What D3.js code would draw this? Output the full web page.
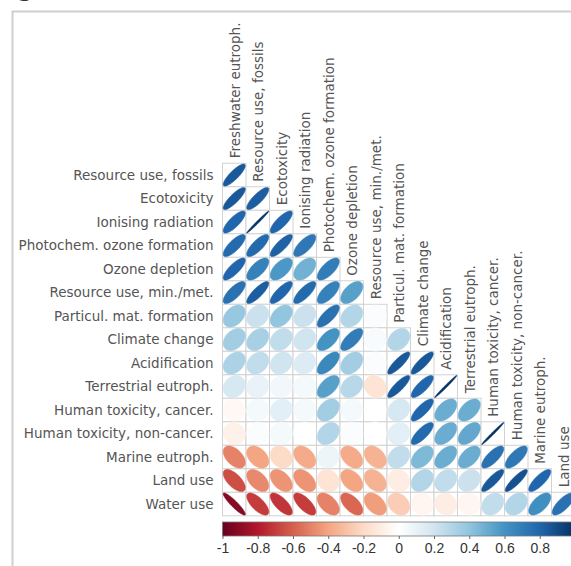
<!DOCTYPE html>
<html>
<head>
<meta charset="utf-8">
<script src="https://cdn.jsdelivr.net/npm/d3@7"></script>
<style>
  html, body { margin: 0; padding: 0; background: #fff; overflow: hidden; }
  svg { display: block; }
</style>
</head>
<body>
<svg id="chart" width="571" height="566"></svg>
<script>
// Impact categories, in matrix order
const variables = [
  "Freshwater eutroph.", "Resource use, fossils", "Ecotoxicity", "Ionising radiation",
  "Photochem. ozone formation", "Ozone depletion", "Resource use, min./met.",
  "Particul. mat. formation", "Climate change", "Acidification", "Terrestrial eutroph.",
  "Human toxicity, cancer.", "Human toxicity, non-cancer.", "Marine eutroph.",
  "Land use", "Water use"
];

// Lower triangle of the correlation matrix: row i holds r(variable i+1, variable j), j = 0..i
const corrRows = [
  [0.85],
  [0.85, 0.83],
  [0.80, 0.99, 0.80],
  [0.78, 0.78, 0.82, 0.72],
  [0.80, 0.68, 0.58, 0.48, 0.70],
  [0.75, 0.83, 0.80, 0.78, 0.68, 0.55],
  [0.38, 0.22, 0.40, 0.22, 0.75, 0.30, 0.02],
  [0.35, 0.33, 0.25, 0.20, 0.60, 0.70, 0.03, 0.30],
  [0.32, 0.25, 0.20, 0.15, 0.65, 0.35, 0.02, 0.85, 0.85],
  [0.18, 0.10, 0.06, 0.05, 0.55, 0.28, -0.15, 0.85, 0.80, 0.99],
  [-0.04, 0.05, 0.12, 0.05, 0.35, 0.05, 0.00, 0.18, 0.80, 0.50, 0.50],
  [-0.08, 0.02, 0.05, 0.00, 0.30, 0.02, 0.00, 0.12, 0.78, 0.50, 0.52, 0.99],
  [-0.50, -0.40, -0.20, -0.38, 0.08, -0.38, -0.35, 0.25, 0.45, 0.50, 0.50, 0.75, 0.72],
  [-0.65, -0.48, -0.45, -0.45, -0.15, -0.40, -0.35, -0.10, 0.30, 0.25, 0.22, 0.85, 0.88, 0.80],
  [-0.92, -0.70, -0.72, -0.70, -0.50, -0.58, -0.42, -0.25, -0.05, -0.10, -0.05, 0.25, 0.30, 0.62, 0.75]
];

// Diverging palette, -1 .. 1
const paletteColors = ["#67001F", "#B2182B", "#D6604D", "#F4A582", "#FDDBC7", "#FFFFFF",
                       "#D1E5F0", "#92C5DE", "#4393C3", "#2166AC", "#053061"];
const paletteStops = d3.range(11).map(i => -1 + i * 0.2);

// Colour bar tick labels
const barTicks = [-1, -0.8, -0.6, -0.4, -0.2, 0, 0.2, 0.4, 0.6, 0.8];

const svg = d3.select("#chart");
const W = 571, H = 566;

svg.append("rect").attr("width", W).attr("height", H).attr("fill", "#fff");

// panel frame
svg.append("path")
  .attr("d", `M12.5,${H} L12.5,11.5 L${W},11.5`)
  .attr("fill", "none").attr("stroke", "#cfcfcf").attr("stroke-width", 2);

// panel letter (mostly above the page)
svg.append("text")
  .attr("x", 17).attr("y", -4)
  .attr("font-family", "DejaVu Sans").attr("font-weight", "bold")
  .attr("font-size", 24).attr("fill", "#333")
  .text("g");

const cell = 23.5;
const gridLeft = 222.5, gridTop = 163.3;
const colVars = variables.slice(0, variables.length - 1);
const rowVars = variables.slice(1);

const x = d3.scaleBand().domain(colVars).range([gridLeft, gridLeft + cell * colVars.length]);
const y = d3.scaleBand().domain(rowVars).range([gridTop, gridTop + cell * rowVars.length]);
const color = d3.scaleLinear().domain(paletteStops).range(paletteColors).interpolate(d3.interpolateRgb);

const cells = [];
corrRows.forEach((row, i) => row.forEach((r, j) => cells.push({ row: rowVars[i], col: colVars[j], r })));

// ellipse outline for a correlation r, centred at 0, half-size s
function ellipsePath(r, s) {
  const a = Math.acos(Math.max(-1, Math.min(1, r)));
  const pts = d3.range(0, 100).map(i => {
    const k = i / 100 * 2 * Math.PI;
    return [Math.cos(k + a / 2) * s, -Math.cos(k - a / 2) * s];
  });
  return d3.line()(pts) + "Z";
}

const g = svg.append("g");

// grid
g.selectAll("rect.cell").data(cells).join("rect")
  .attr("class", "cell")
  .attr("x", d => x(d.col)).attr("y", d => y(d.row))
  .attr("width", x.bandwidth()).attr("height", y.bandwidth())
  .attr("fill", "#fff").attr("stroke", "#d2d2d2").attr("stroke-width", 1);

// ellipses
g.selectAll("path.ell").data(cells).join("path")
  .attr("class", "ell")
  .attr("transform", d => `translate(${x(d.col) + x.bandwidth() / 2},${y(d.row) + y.bandwidth() / 2})`)
  .attr("d", d => ellipsePath(d.r, x.bandwidth() * 0.47))
  .attr("fill", d => color(d.r))
  .attr("stroke", d => color(d.r)).attr("stroke-width", 0.6);

// row labels
svg.append("g").selectAll("text").data(rowVars).join("text")
  .attr("x", gridLeft - 9)
  .attr("y", d => y(d) + y.bandwidth() / 2)
  .attr("dy", "0.36em")
  .attr("text-anchor", "end")
  .attr("font-family", "DejaVu Sans").attr("font-size", 13.5)
  .attr("fill", "#555")
  .text(d => d);

// column labels, placed on the diagonal
svg.append("g").selectAll("text").data(colVars).join("text")
  .attr("transform", (d, j) => `translate(${x(d) + x.bandwidth() / 2 + 5.5},${y(rowVars[j]) - 5}) rotate(-90)`)
  .attr("text-anchor", "start")
  .attr("font-family", "DejaVu Sans").attr("font-size", 13.5)
  .attr("fill", "#555")
  .text(d => d);

// colour bar
const barX = d3.scaleLinear().domain([-1, 1]).range([gridLeft, gridLeft + cell * colVars.length]);
const barTop = 522, barH = 14;
const defs = svg.append("defs");
const grad = defs.append("linearGradient").attr("id", "cbar")
  .attr("x1", "0%").attr("x2", "100%").attr("y1", "0%").attr("y2", "0%");
grad.selectAll("stop").data(paletteStops).join("stop")
  .attr("offset", d => ((d + 1) / 2 * 100) + "%")
  .attr("stop-color", d => color(d));

svg.append("rect")
  .attr("x", barX(-1)).attr("y", barTop)
  .attr("width", barX(1) - barX(-1)).attr("height", barH)
  .attr("fill", "url(#cbar)")
  .attr("stroke", "#777").attr("stroke-width", 0.8);

const axis = d3.axisBottom(barX).tickValues(barTicks).tickSize(3).tickPadding(4)
  .tickFormat(d => String(d));
const ax = svg.append("g").attr("transform", `translate(0,${barTop + barH})`).call(axis);
ax.select(".domain").remove();
ax.selectAll("line").attr("stroke", "#666");
ax.selectAll("text")
  .attr("font-family", "Liberation Sans").attr("font-size", 14).attr("fill", "#333");
</script>
</body>
</html>
